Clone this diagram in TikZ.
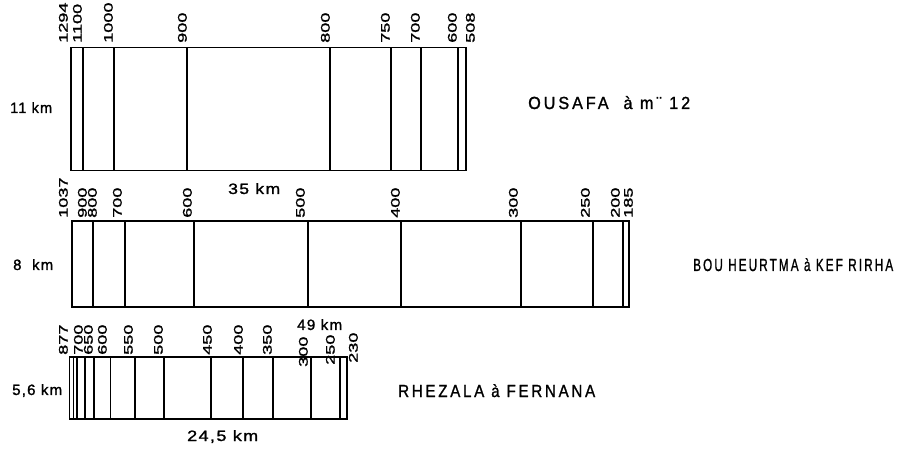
\documentclass[tikz,border=0pt]{standalone}
\usepackage{fontspec}
\setmainfont{Liberation Sans}
\newfontfamily\numfont[FakeBold=1.3]{Liberation Sans}
\newfontfamily\titlefont[FakeBold=1.3,LetterSpace=18]{Liberation Sans}
\newfontfamily\kmfont[FakeBold=1.3,LetterSpace=8]{Liberation Sans}
\usepackage{graphicx}
\newcommand\numtxt[1]{\scalebox{1.45}[1]{\fontsize{12.5}{12.5}\numfont #1}}
\newcommand\fittxt[2]{\resizebox{#1pt}{\height}{\fontsize{15}{15}\kmfont #2}}
\newcommand\fittitle[2]{\resizebox{#1pt}{\height}{\fontsize{17.5}{17.5}\titlefont #2}}
\begin{document}
\begin{tikzpicture}[x=1pt,y=-1pt,
  num/.style={rotate=90,anchor=south west,inner sep=0pt},
  lab/.style={anchor=base west,inner sep=0pt},
  frame/.style={line width=1.5pt},
  contour/.style={line width=1.3pt}]
\useasboundingbox (0,0) rectangle (906,449);
% ---------- Ousafa ----------
\draw[frame] (71,47.5) rectangle (466,170.5);
\foreach \x in {83,114,187,330,391,421,458}
  \draw[contour] (\x,47.5) -- (\x,170.5);
\foreach \x/\t in {68/1294,82/1100,113/1000,187/900,330/800,390/750,420/700,457/600,475/508}
  \node[num] (a\t) at (\x,43) {\numtxt{\t}};
\node[lab] (ah) at (10,113) {\fittxt{42}{11 km}};
\node[lab] (aw) at (228,194) {\fittxt{52}{35 km}};
\node[lab] (at) at (528,109) {\fittitle{162}{OUSAFA\ \ à\ m¨ 12}};
% ---------- Bou Heurtma ----------
\draw[frame] (72,221) rectangle (629,307);
\foreach \x in {93,125,194,308,401,521,593,623}
  \draw[contour] (\x,221) -- (\x,307);
\foreach \x/\t in {68/1037,87/900,97/800,122/700,192/600,305/500,400/400,518/300,590/250,620/200,633/185}
  \node[num] (b\t) at (\x,218) {\numtxt{\t}};
\node[lab] (bh) at (13,270) {\fittxt{40}{8\ \ km}};
\node[lab] (bw) at (297,330) {\fittxt{45}{49 km}};
\node[lab] (bt) at (693,271) {\fittitle{200}{BOU HEURTMA à KEF RIRHA}};
% ---------- Rhezala ----------
\draw[frame] (69.5,357) rectangle (347,419);
\foreach \x in {73.5,77,85,94,110.5,135,164,211,243,273,311,340}
  \draw[contour] (\x,357) -- (\x,419);
\foreach \x/\t in {68/877,83/700,93/650,107/600,133/550,163/500,212/450,243/400,272/350}
  \node[num] (c\t) at (\x,355) {\numtxt{\t}};
\node[num] (c300) at (308,367) {\numtxt{300}};
\node[num] (c250) at (335,365) {\numtxt{250}};
\node[num] (c230) at (358,363) {\numtxt{230}};
\node[lab] (ch) at (12,395) {\fittxt{50}{5,6 km}};
\node[lab] (cw) at (187,441) {\fittxt{71}{24,5 km}};
\node[lab] (ct) at (398,397) {\fittitle{197}{RHEZALA à FERNANA}};
\end{tikzpicture}
\end{document}
